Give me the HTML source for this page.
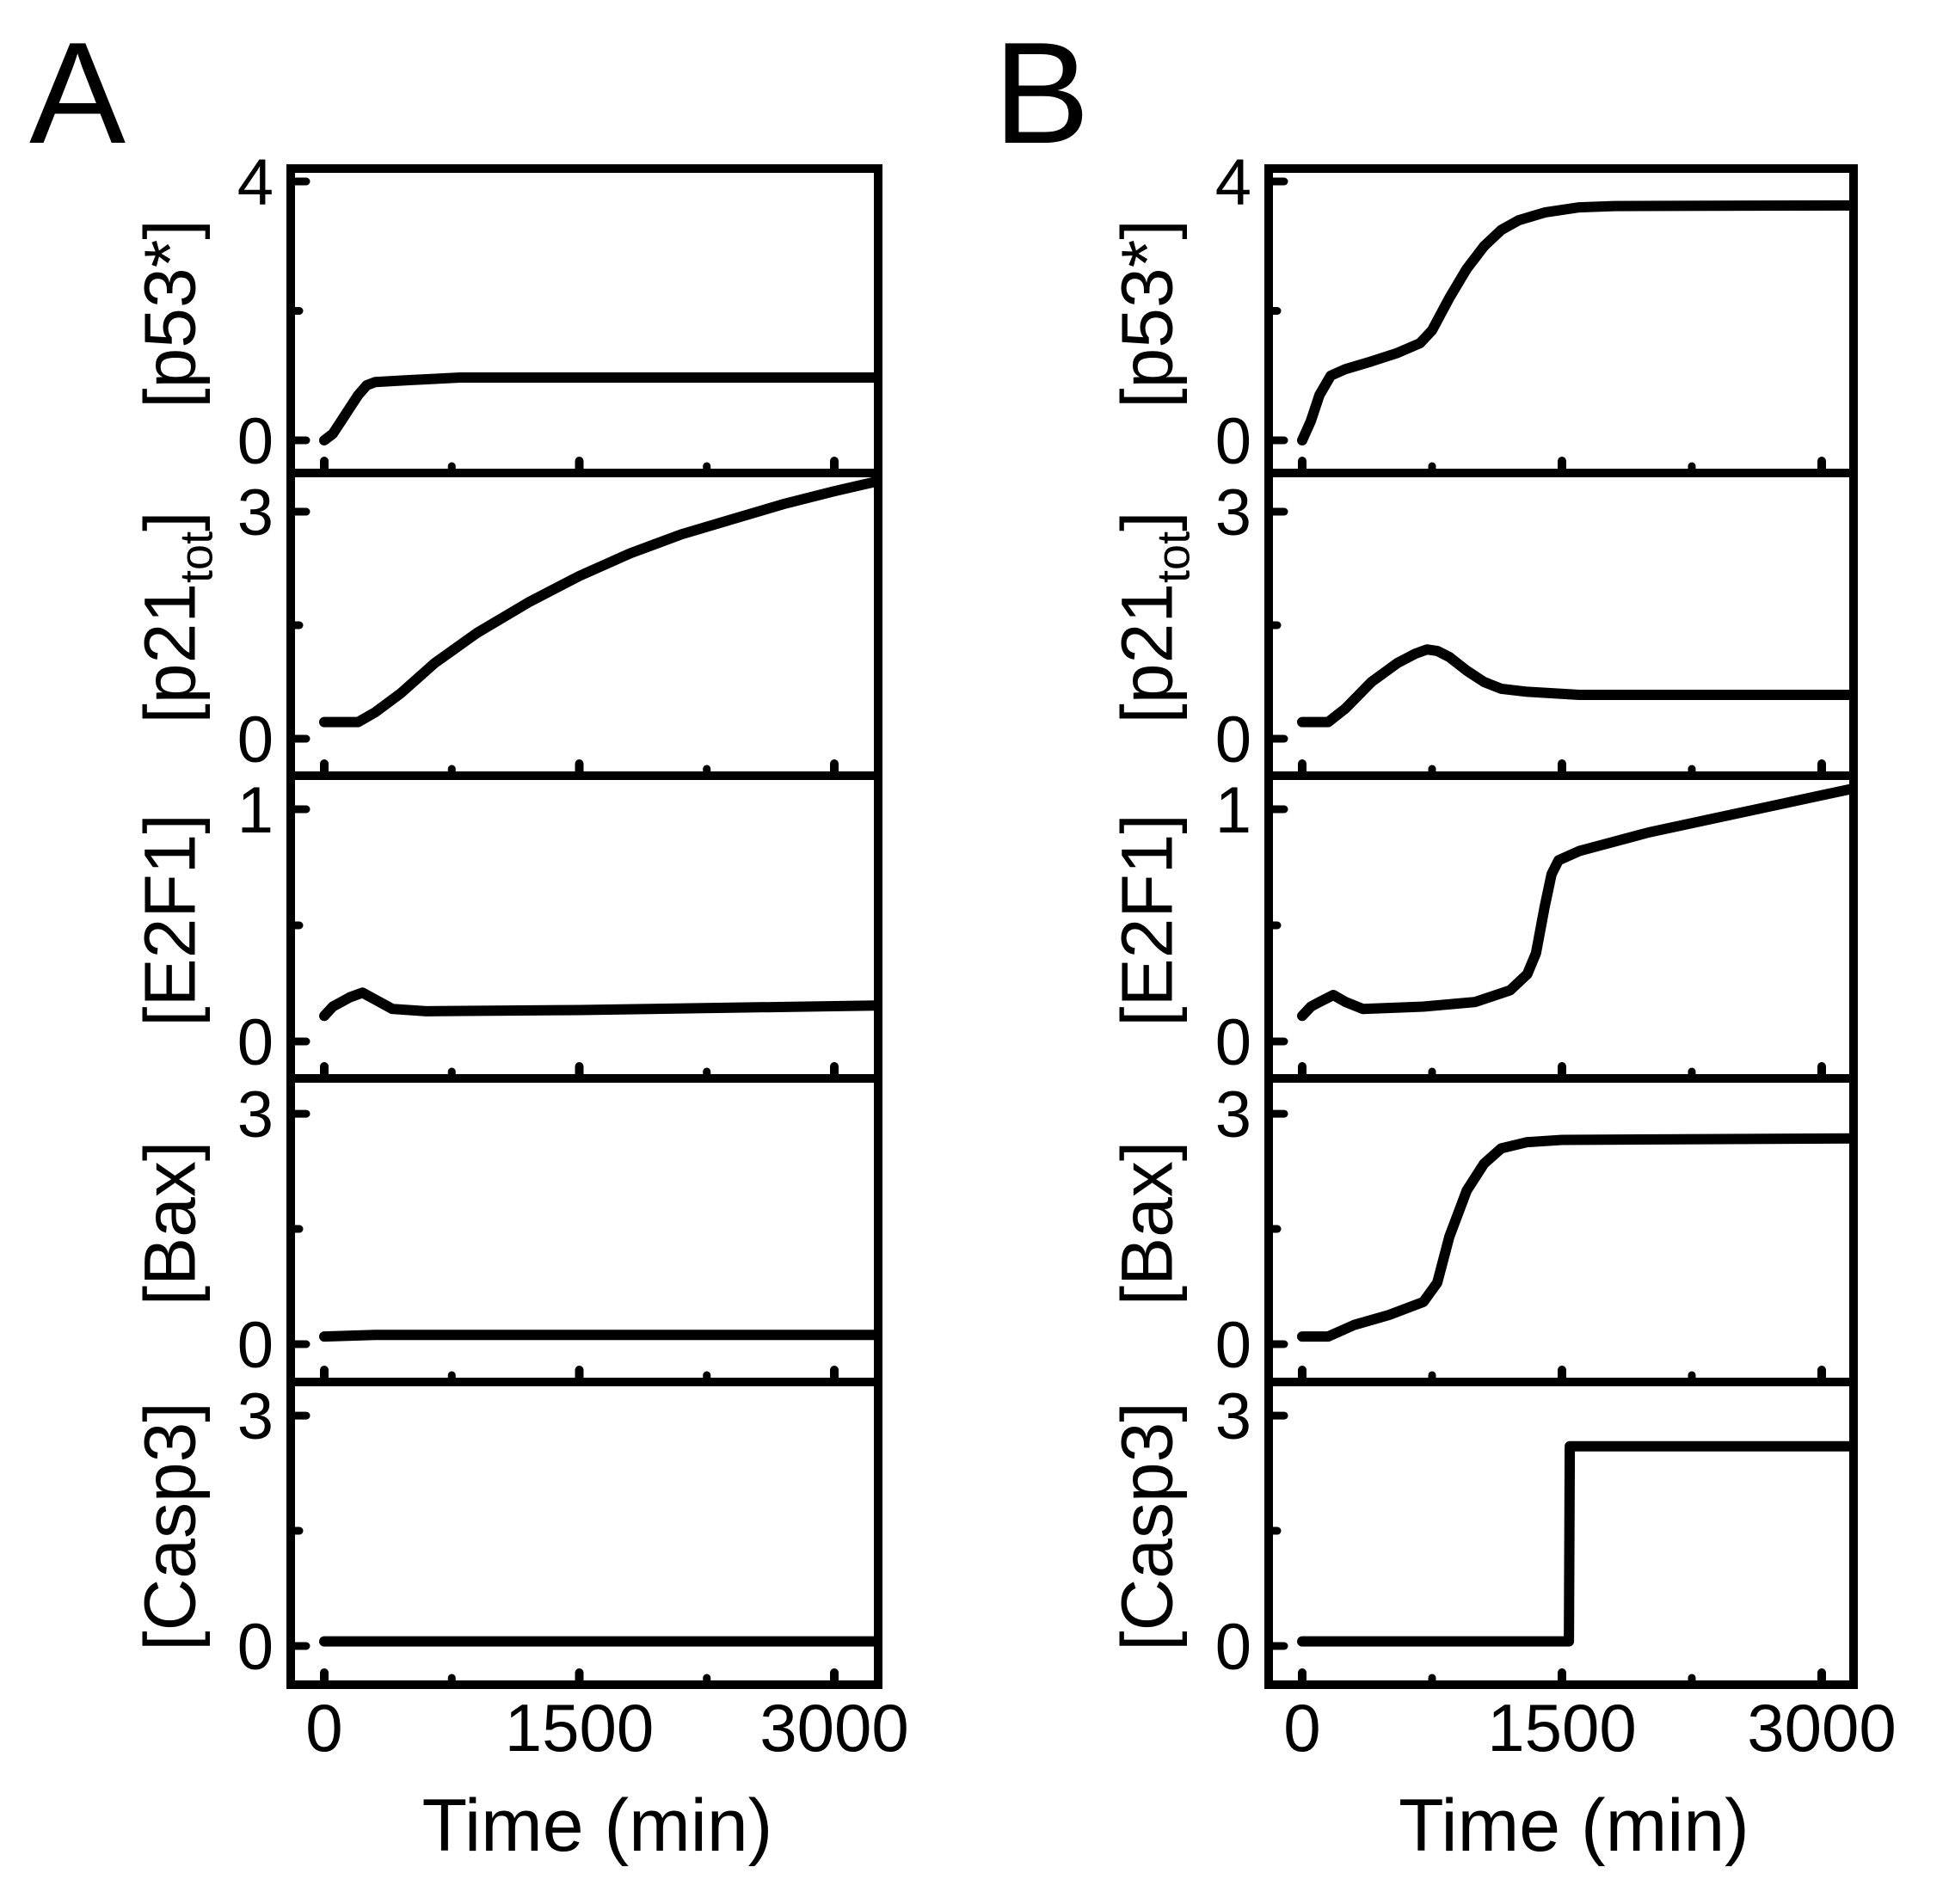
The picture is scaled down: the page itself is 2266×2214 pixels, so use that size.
<!DOCTYPE html>
<html><head><meta charset="utf-8"><style>
html,body{margin:0;padding:0;background:#fff;}
svg{display:block;font-family:"Liberation Sans",Arial,sans-serif;}
</style></head><body>
<svg id="fig" width="2266" height="2214" viewBox="0 0 2266 2214" xmlns="http://www.w3.org/2000/svg">
<defs id="defs"></defs>
<text x="34" y="166" font-size="168">A</text>
<text x="1155" y="166" font-size="168">B</text>
</svg>
<script>
// ---- data ----
const xTicks = [0, 1500, 3000];
const xMinor = [750, 2250];
const xTickLabels = ["0", "1500", "3000"];

const A_p53_t = [0,50,100,150,200,250,300,500,800,3250];
const A_p53_v = [0,0.1,0.3,0.5,0.7,0.85,0.9,0.93,0.97,0.97];
const A_p21_t = [0,200,300,450,650,900,1200,1500,1800,2100,2400,2700,3000,3250];
const A_p21_v = [0.22,0.22,0.35,0.6,1.0,1.4,1.8,2.15,2.45,2.7,2.9,3.1,3.27,3.4];
const A_e2f1_t = [0,50,100,150,225,300,400,600,1500,3250];
const A_e2f1_v = [0.11,0.15,0.17,0.19,0.21,0.18,0.14,0.13,0.135,0.155];
const A_bax_t = [0,300,3250];
const A_bax_v = [0.1,0.12,0.12];
const A_casp_t = [0,3250];
const A_casp_v = [0.06,0.06];

const B_p53_t = [0,50,100,165,250,400,550,680,750,850,950,1050,1150,1250,1400,1600,1800,3250];
const B_p53_v = [0,0.3,0.7,1.0,1.1,1.22,1.35,1.5,1.7,2.2,2.65,3.0,3.25,3.4,3.52,3.6,3.62,3.63];
const B_p21_t = [0,150,250,400,550,650,720,780,850,950,1050,1150,1300,1600,3250];
const B_p21_v = [0.22,0.22,0.4,0.75,1.0,1.12,1.18,1.16,1.08,0.9,0.75,0.66,0.62,0.58,0.58];
const B_e2f1_t = [0,50,100,180,250,350,700,1000,1200,1300,1350,1400,1440,1480,1600,2000,2500,3000,3250];
const B_e2f1_v = [0.11,0.15,0.17,0.2,0.17,0.14,0.15,0.17,0.22,0.29,0.38,0.58,0.72,0.78,0.82,0.9,0.98,1.06,1.1];
const B_bax_t = [0,150,300,500,700,780,850,950,1050,1150,1300,1500,3250];
const B_bax_v = [0.1,0.1,0.25,0.38,0.55,0.8,1.4,2.0,2.35,2.55,2.63,2.66,2.68];
const B_casp_t = [0,1540,1545,3250];
const B_casp_v = [0.06,0.06,2.6,2.6];

const panelLabels = ["p53*", "p21", "E2F1", "Bax", "Casp3"];
const yTopTicks = [4, 3, 1, 3, 3];
const yTopLabels = ["4", "3", "1", "3", "3"];

// ---- layout ----
const NS = "http://www.w3.org/2000/svg";
const svg = document.getElementById("fig");
const defs = document.getElementById("defs");
const bounds = [196, 550, 902, 1254, 1607, 1959];
const yZero = [512, 859, 1211, 1563, 1914];
const yPerUnit = [75.25, 88, 270, 89.3, 89.3];
const cols = [
  {name:"a", left:338, right:1021, x0:377, x3000:970, labelX:197,
   series:[[A_p53_t,A_p53_v],[A_p21_t,A_p21_v],[A_e2f1_t,A_e2f1_v],[A_bax_t,A_bax_v],[A_casp_t,A_casp_v]]},
  {name:"b", left:1475, right:2155, x0:1514, x3000:2118, labelX:1333,
   series:[[B_p53_t,B_p53_v],[B_p21_t,B_p21_v],[B_e2f1_t,B_e2f1_v],[B_bax_t,B_bax_v],[B_casp_t,B_casp_v]]}
];
function mk(tag, attrs, parent){
  const e = document.createElementNS(NS, tag);
  for (const k in attrs) e.setAttribute(k, attrs[k]);
  (parent||svg).appendChild(e);
  return e;
}
cols.forEach(c => {
  const xs = t => c.x0 + (t/3000)*(c.x3000 - c.x0);
  for (let i=0;i<5;i++){
    const top = bounds[i], bot = bounds[i+1];
    const ys = v => yZero[i] - v*yPerUnit[i];
    const cid = "clip-" + c.name + i;
    const cp = mk("clipPath", {id:cid}, defs);
    mk("rect", {x:c.left, y:top, width:c.right-c.left, height:bot-top}, cp);
    const g = mk("g", {});
    
    
    // series
    const [tt, vv] = c.series[i];
    const d = tt.map((t,j) => (j?"L":"M") + xs(t).toFixed(1) + "," + ys(vv[j]).toFixed(1)).join(" ");
    const p = mk("path", {d:d, fill:"none", stroke:"#000", "stroke-width":12, "stroke-linejoin":"round", "stroke-linecap":"round", "clip-path":`url(#${cid})`}, g);
    
    
    // frame
    const fr = mk("rect", {x:c.left, y:top, width:c.right-c.left, height:bot-top, fill:"none", stroke:"#000", "stroke-width":10}, g);
    
    
    // x ticks
    xTicks.forEach(t => {
      const l = mk("line", {x1:xs(t), x2:xs(t), y1:bot, y2:bot-14, stroke:"#000", "stroke-width":10, "stroke-linecap":"round"}, g);
      
      
    });
    xMinor.forEach(t => {
      const l = mk("line", {x1:xs(t), x2:xs(t), y1:bot, y2:bot-8, stroke:"#000", "stroke-width":9, "stroke-linecap":"round"}, g);
      
      
    });
    // y ticks
    [0, yTopTicks[i]].forEach((v, k) => {
      const l = mk("line", {x1:c.left, x2:c.left+18, y1:ys(v), y2:ys(v), stroke:"#000", "stroke-width":9, "stroke-linecap":"round"}, g);
      
      
      const tx = mk("text", {x:c.left-20, y:ys(v)+27, "font-size":76, "text-anchor":"end"}, g);
      tx.textContent = k===0 ? "0" : yTopLabels[i];
      
      
    });
    const mv = yTopTicks[i]/2;
    const lm = mk("line", {x1:c.left, x2:c.left+10, y1:ys(mv), y2:ys(mv), stroke:"#000", "stroke-width":9, "stroke-linecap":"round"}, g);
    
    
    // y label
    const cy = (top+bot)/2 - 8;
    const yl = mk("text", {x:c.labelX, y:cy, "font-size":84, "text-anchor":"middle", transform:`rotate(-90 ${c.labelX} ${cy})`, dy:"0.35em"}, g);
    
    
    if (i===1){
      yl.innerHTML = '[p21<tspan font-size="54" dy="20">tot</tspan><tspan dy="-20">]</tspan>';
    } else {
      yl.textContent = "[" + panelLabels[i] + "]";
    }
  }
  // x tick labels
  xTicks.forEach((t,k) => {
    const tx = mk("text", {x:xs(t), y:2036, "font-size":78, "text-anchor":"middle"});
    tx.textContent = xTickLabels[k];
    
    
  });
  const xt = mk("text", {x:(c.left+c.right)/2 + 15, y:2152, "font-size":86, "text-anchor":"middle"});
  xt.textContent = "Time (min)";
  
  
});
</script>
</body></html>
